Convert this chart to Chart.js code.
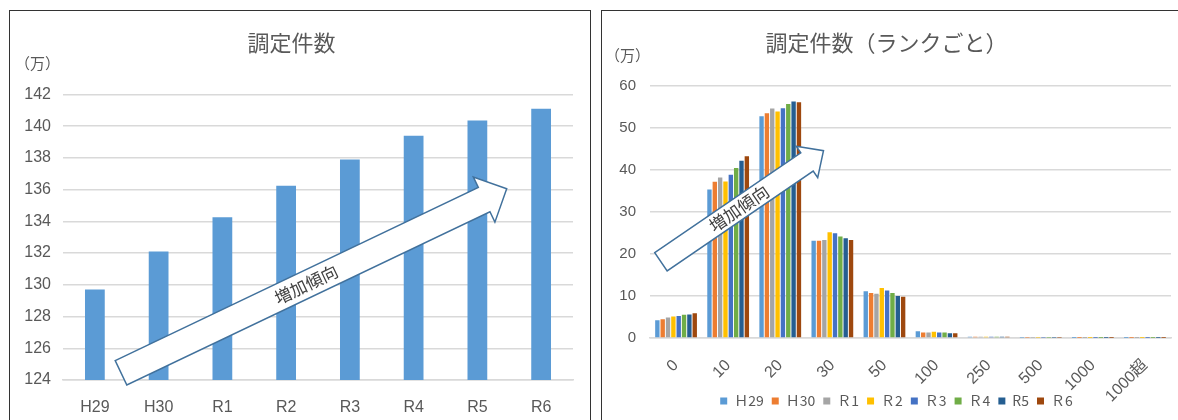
<!DOCTYPE html>
<html>
<head>
<meta charset="utf-8">
<script src="https://cdn.jsdelivr.net/npm/chart.js@4.4.1/dist/chart.umd.min.js"></script>
<style>
  body { margin: 0; background: #fff; width: 1178px; height: 420px; overflow: hidden; position: relative; }
  .panel { position: absolute; top: 10px; height: 440px; border: 1.5px solid #333; box-sizing: border-box; }
  #p1 { left: 9px; width: 582px; }
  #p2 { left: 601px; width: 600px; }
  canvas { position: absolute; }
</style>
</head>
<body>
<div class="panel" id="p1"></div>
<div class="panel" id="p2"></div>
<canvas id="totalChart" style="left:10px;top:12px" width="580" height="408"></canvas>
<canvas id="rankChart" style="left:602px;top:12px" width="576" height="408"></canvas>
<script>
// total (万件)
const years = ['H29', 'H30', 'R1', 'R2', 'R3', 'R4', 'R5', 'R6'];
const totals = [129.7, 132.1, 134.25, 136.25, 137.9, 139.4, 140.35, 141.1];

// per rank (万件)
const ranks = ['0', '10', '20', '30', '50', '100', '250', '500', '1000', '1000超'];
const seriesNames = ['Ｈ29', 'Ｈ30', 'Ｒ1', 'Ｒ2', 'Ｒ3', 'Ｒ4', 'R5', 'Ｒ6'];
const h29 = [4.2, 35.3, 52.7, 23.1, 11.1, 1.6, 0.3, 0.05, 0.02, 0.01];
const h30 = [4.45, 37.1, 53.4, 23.1, 10.7, 1.3, 0.3, 0.05, 0.02, 0.01];
const r1 = [4.85, 38.1, 54.5, 23.3, 10.5, 1.3, 0.3, 0.05, 0.02, 0.01];
const r2 = [5.1, 37.2, 53.8, 25.1, 11.9, 1.5, 0.3, 0.05, 0.02, 0.01];
const r3 = [5.25, 38.8, 54.6, 24.9, 11.3, 1.3, 0.3, 0.05, 0.02, 0.01];
const r4 = [5.55, 40.4, 55.6, 24.1, 10.7, 1.3, 0.3, 0.05, 0.02, 0.01];
const r5 = [5.6, 42.1, 56.2, 23.7, 10.0, 1.1, 0.3, 0.05, 0.02, 0.01];
const r6 = [5.85, 43.2, 56.0, 23.3, 9.8, 1.1, 0.3, 0.05, 0.02, 0.01];
const rankSeries = [h29, h30, r1, r2, r3, r4, r5, r6];
const seriesColors = ['#5B9BD5', '#ED7D31', '#A5A5A5', '#FFC000', '#4472C4', '#70AD47', '#255E91', '#9E480E'];

const FONT = "'Liberation Sans', 'Noto Sans CJK JP', sans-serif";
const CJK = "'Noto Sans CJK JP', sans-serif";
const TEXT = '#595959';
const GRID = '#D9D9D9';

// white block arrow with label, anchored in scale units
const arrowPlugin = {
    id: 'trendArrow',
    afterDatasetsDraw(chart, args, o) {
        const xs = chart.scales.x, ys = chart.scales.y;
        const x1 = xs.getPixelForValue(o.from[0]), y1 = ys.getPixelForValue(o.from[1]);
        const x2 = xs.getPixelForValue(o.to[0]), y2 = ys.getPixelForValue(o.to[1]);
        const len = Math.hypot(x2 - x1, y2 - y1);
        const ang = Math.atan2(y2 - y1, x2 - x1);
        const w = o.shaft / 2, h = o.head / 2, hl = o.headLen;
        const ctx = chart.ctx;
        ctx.save();
        ctx.translate(x1, y1);
        ctx.rotate(ang);
        ctx.beginPath();
        ctx.moveTo(0, -w);
        ctx.lineTo(len - hl, -w);
        ctx.lineTo(len - hl, -h);
        ctx.lineTo(len, 0);
        ctx.lineTo(len - hl, h);
        ctx.lineTo(len - hl, w);
        ctx.lineTo(0, w);
        ctx.closePath();
        ctx.fillStyle = '#fff';
        ctx.fill();
        ctx.lineWidth = 1.5;
        ctx.strokeStyle = '#41719C';
        ctx.stroke();
        ctx.fillStyle = '#404040';
        ctx.font = '17px ' + CJK;
        ctx.textAlign = 'center';
        ctx.textBaseline = 'middle';
        ctx.fillText(o.text, len * 0.48, 0);
        ctx.restore();
    }
};

// (万) unit label above the y axis
const unitPlugin = {
    id: 'unitLabel',
    afterDraw(chart, args, o) {
        const ctx = chart.ctx;
        ctx.save();
        ctx.fillStyle = TEXT;
        ctx.font = '15px ' + CJK;
        ctx.textAlign = 'left';
        ctx.textBaseline = 'middle';
        ctx.fillText(o.text, chart.chartArea.left + o.dx, chart.chartArea.top + o.dy);
        ctx.restore();
    }
};

// let rotated category labels run down past the axis box (not clipped),
// and nudge the legend right like the Excel original
const labelRoomPlugin = {
    id: 'labelRoom',
    afterLayout(chart) {
        chart.scales.x.bottom = chart.height;
        chart.legend.left += 10;
        chart.legend.right += 10;
    }
};

function createTotalChart() {
    const ctx = document.getElementById('totalChart').getContext('2d');
    new Chart(ctx, {
        type: 'bar',
        data: {
            labels: years,
            datasets: [{
                label: '調定件数',
                data: totals,
                backgroundColor: '#5B9BD5',
                barPercentage: 0.62,
                categoryPercentage: 0.5
            }]
        },
        options: {
            responsive: false,
            animation: false,
            layout: { padding: { left: 0, right: 17, bottom: 0 } },
            scales: {
                y: {
                    min: 124,
                    max: 142,
                    ticks: { stepSize: 2, color: TEXT, font: { family: FONT, size: 16 }, padding: 12 },
                    grid: { color: GRID, lineWidth: 1.5, drawTicks: false },
                    border: { display: false },
                    afterFit(s) { s.width = 53; }
                },
                x: {
                    ticks: { color: TEXT, font: { family: FONT, size: 16 }, padding: 10 },
                    grid: { display: false },
                    border: { color: GRID, width: 1.5 },
                    afterFit(s) { s.height = 40; }
                }
            },
            plugins: {
                legend: { display: false },
                tooltip: { enabled: false },
                title: {
                    display: true,
                    text: '調定件数',
                    color: TEXT,
                    font: { family: CJK, size: 22, weight: 'normal' },
                    padding: { top: 17, bottom: 39 }
                },
                unitLabel: { text: '（万）', dx: -48, dy: -31 },
                trendArrow: { from: [0.41, 124.45], to: [6.46, 136.05], shaft: 27, head: 50, headLen: 25, text: '増加傾向' }
            }
        },
        plugins: [arrowPlugin, unitPlugin]
    });
}

function createRankChart() {
    const ctx = document.getElementById('rankChart').getContext('2d');
    new Chart(ctx, {
        type: 'bar',
        data: {
            labels: ranks,
            datasets: rankSeries.map((d, i) => ({
                label: seriesNames[i],
                data: d,
                backgroundColor: seriesColors[i],
                barPercentage: 0.82,
                categoryPercentage: 0.82
            }))
        },
        options: {
            responsive: false,
            animation: false,
            layout: { padding: { left: 0, right: 7, bottom: 2 } },
            scales: {
                y: {
                    min: 0,
                    max: 60,
                    ticks: { stepSize: 10, color: TEXT, font: { family: FONT, size: 15 }, padding: 14 },
                    grid: { color: GRID, lineWidth: 1.5, drawTicks: false },
                    border: { display: false },
                    afterFit(s) { s.width = 48; }
                },
                x: {
                    ticks: { color: TEXT, font: { family: FONT, size: 16 }, padding: 10, minRotation: 45, maxRotation: 45 },
                    grid: { display: false },
                    border: { color: GRID, width: 1.5 },
                    afterFit(s) { s.height = 48; }
                }
            },
            plugins: {
                legend: {
                    position: 'bottom',
                    labels: { color: TEXT, boxWidth: 7, boxHeight: 7, padding: 8, font: { family: CJK, size: 14 } }
                },
                tooltip: { enabled: false },
                title: {
                    display: true,
                    text: '調定件数（ランクごと）',
                    color: TEXT,
                    font: { family: CJK, size: 22, weight: 'normal' },
                    padding: { top: 17, bottom: 30 }
                },
                unitLabel: { text: '（万）', dx: -45, dy: -30 },
                trendArrow: { from: [-0.29, 18.1], to: [2.83, 44.5], shaft: 22, head: 38, headLen: 20, text: '増加傾向' }
            }
        },
        plugins: [arrowPlugin, unitPlugin, labelRoomPlugin]
    });
}

window.onload = function() {
    createTotalChart();
    createRankChart();
};
</script>
</body>
</html>
